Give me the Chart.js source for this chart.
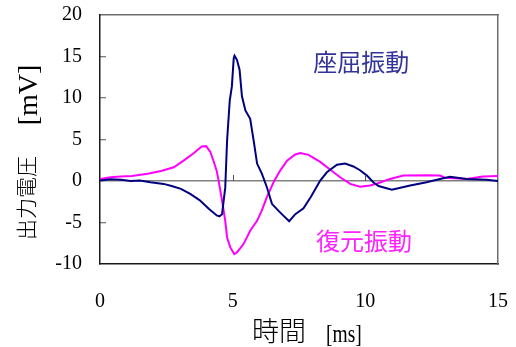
<!DOCTYPE html>
<html>
<head>
<meta charset="utf-8">
<script src="https://cdn.jsdelivr.net/npm/chart.js@4"></script>
<style>
  html, body { margin: 0; padding: 0; background: #fff; }
  #wrap { width: 516px; height: 347px; }
</style>
</head>
<body>
<div id="wrap"><canvas id="chart"></canvas></div>
<script>
// time [ms] and output voltage [mV]
const bucklingTime = [0, 0.4, 0.8, 1.15, 1.5, 1.9, 2.4, 2.7, 3.05, 3.4, 3.75, 4.1, 4.4, 4.5, 4.6, 4.66, 4.72,
  4.79, 4.89, 4.97, 5.04, 5.07, 5.16, 5.26, 5.35, 5.48, 5.66, 5.79, 5.92, 6.1, 6.29, 6.48, 6.73, 6.92,
  7.13, 7.36, 7.67, 7.95, 8.3, 8.55, 8.93, 9.24, 9.55, 9.8, 10.06, 10.3, 10.5, 11.0, 11.69, 12.31, 12.81,
  13.19, 13.82, 14.57, 15];
const bucklingVolt = [0.05, 0.2, 0.15, 0.0, 0.05, -0.15, -0.35, -0.6, -0.95, -1.55, -2.3, -3.35, -4.15, -4.25, -4.0, -2.4, -0.8,
  4.9, 9.7, 11.4, 14.8, 15.1, 14.6, 13.4, 10.2, 8.5, 7.5, 4.9, 2.1, 0.9, -0.75, -2.75, -3.6, -4.2,
  -4.85, -4.0, -3.3, -1.9, 0.05, 1.05, 1.95, 2.1, 1.75, 1.3, 0.65, -0.15, -0.6, -1.05, -0.55, -0.15, 0.25,
  0.5, 0.25, 0.15, 0.0];

const restoreTime = [0, 0.4, 0.77, 1.2, 1.8, 2.3, 2.78, 3.15, 3.53, 3.83, 4.0, 4.16, 4.3, 4.4, 4.47, 4.6, 4.72,
  4.79, 4.91, 5.06, 5.16, 5.41, 5.66, 5.92, 6.1, 6.29, 6.54, 6.79, 7.05, 7.36, 7.55, 7.86, 8.3, 8.68,
  9.05, 9.43, 9.8, 10.18, 10.45, 10.93, 11.43, 12.31, 12.81, 13.0, 13.82, 14.44, 15];
const restoreVolt = [0.25, 0.45, 0.55, 0.6, 0.87, 1.2, 1.65, 2.45, 3.35, 4.15, 4.2, 3.5, 2.2, 1.2, 0.05, -2.35, -4.8,
  -6.8, -8.0, -8.8, -8.6, -7.6, -6.0, -4.8, -3.55, -1.95, -0.15, 1.25, 2.45, 3.2, 3.37, 3.15, 2.3, 1.35,
  0.45, -0.35, -0.7, -0.55, -0.3, 0.25, 0.65, 0.7, 0.65, 0.4, 0.25, 0.55, 0.6];

const seriesNames = ['座屈振動', '復元振動'];
const xTicks = [0, 5, 10, 15];
const yTicks = [-10, -5, 0, 5, 10, 15, 20];

const serif = '"Liberation Serif", "Noto Sans CJK JP", serif';
const gothic = '"Noto Sans CJK JP", sans-serif';

function toPoints(xs, ys) {
  return xs.map((x, i) => ({ x: x, y: ys[i] }));
}

function isEdge(v) {
  return v === yTicks[0] || v === yTicks[yTicks.length - 1] || v === 0;
}

// axis titles, series labels and the small ticks on the zero line
const decorations = {
  id: 'decorations',
  afterDraw(chart) {
    const ctx = chart.ctx;
    const xs = chart.scales.x;
    const ys = chart.scales.y;

    ctx.save();
    ctx.font = '24px ' + gothic;
    ctx.textAlign = 'center';
    ctx.textBaseline = 'middle';
    ctx.fillStyle = '#333399';
    ctx.fillText(seriesNames[0], xs.getPixelForValue(9.85), ys.getPixelForValue(14.35));
    ctx.fillStyle = '#FF22FF';
    ctx.fillText(seriesNames[1], xs.getPixelForValue(9.95), ys.getPixelForValue(-7.2));
    ctx.restore();

    ctx.save();
    ctx.fillStyle = '#000000';
    ctx.textAlign = 'left';
    ctx.textBaseline = 'middle';
    ctx.font = '300 27px ' + gothic;
    ctx.fillText('時間', 252, 331);
    ctx.translate(326, 342);
    ctx.scale(0.75, 1);
    ctx.textBaseline = 'alphabetic';
    ctx.font = '26px "Liberation Serif", serif';
    ctx.fillText('[ms]', 0, 0);
    ctx.restore();

    ctx.save();
    ctx.fillStyle = '#000000';
    ctx.translate(26, 198);
    ctx.rotate(-Math.PI / 2);
    ctx.textAlign = 'center';
    ctx.textBaseline = 'middle';
    ctx.font = '300 21px ' + gothic;
    ctx.fillText('出力電圧', 0, 0);
    ctx.restore();
    ctx.save();
    ctx.fillStyle = '#000000';
    ctx.translate(37, 95);
    ctx.rotate(-Math.PI / 2);
    ctx.textAlign = 'center';
    ctx.textBaseline = 'alphabetic';
    ctx.font = '28px "Liberation Serif", serif';
    ctx.fillText('[mV]', 0, 0);
    ctx.restore();

    ctx.save();
    ctx.lineWidth = 1;
    ctx.strokeStyle = '#555555';
    const zero = ys.getPixelForValue(0);
    xTicks.slice(1, -1).forEach(t => {
      const px = Math.round(xs.getPixelForValue(t)) + 0.5;
      ctx.strokeRect(px, zero - 6, 0, 6);
    });
    ctx.restore();
  }
};

new Chart(document.getElementById('chart'), {
  type: 'line',
  data: {
    datasets: [
      {
        label: seriesNames[0],
        data: toPoints(bucklingTime, bucklingVolt),
        xAxisID: 'x',
        yAxisID: 'y',
        borderColor: '#000080',
        borderWidth: 2,
        pointRadius: 0,
        tension: 0
      },
      {
        label: seriesNames[1],
        data: toPoints(restoreTime, restoreVolt),
        xAxisID: 'x',
        yAxisID: 'y',
        borderColor: '#FF00FF',
        borderWidth: 2,
        pointRadius: 0,
        tension: 0
      }
    ]
  },
  options: {
    responsive: true,
    maintainAspectRatio: false,
    animation: false,
    layout: { padding: { top: 15, right: 18, left: 0, bottom: 0 } },
    plugins: {
      legend: { display: false },
      tooltip: { enabled: false }
    },
    scales: {
      x: {
        type: 'linear',
        position: 'bottom',
        min: 0,
        max: 15,
        afterBuildTicks: s => { s.ticks = xTicks.map(v => ({ value: v })); },
        afterFit: s => {
          s.height = 83;
          s.paddingLeft = 0;
          s.paddingRight = 0;
        },
        grid: { display: false, drawTicks: false },
        border: { display: true, color: '#1a1a1a', width: 1.5 },
        ticks: { padding: 26, color: '#000', font: { family: serif, size: 20 }, maxRotation: 0 }
      },
      xTop: {
        type: 'linear',
        position: 'top',
        min: 0,
        max: 15,
        afterFit: s => {
          s.height = 0;
          s.paddingLeft = 0;
          s.paddingRight = 0;
        },
        grid: { display: false, drawTicks: false },
        ticks: { display: false },
        border: { display: true, color: '#6e6e6e', width: 1.5 }
      },
      y: {
        position: 'left',
        min: -10,
        max: 20,
        afterBuildTicks: s => { s.ticks = yTicks.map(v => ({ value: v })); },
        afterFit: s => {
          s.width = 100;
          s.paddingTop = 0;
          s.paddingBottom = 0;
        },
        grid: {
          drawTicks: true,
          tickLength: -6,
          tickWidth: 1,
          lineWidth: 1.5,
          color: c => (c.tick && c.tick.value === 0 ? '#808080' : 'rgba(0,0,0,0)'),
          tickColor: c => (c.tick && isEdge(c.tick.value) ? 'rgba(0,0,0,0)' : '#555555')
        },
        border: { display: true, color: '#1a1a1a', width: 1.5 },
        ticks: { padding: 24, color: '#000', font: { family: serif, size: 20 } }
      },
      yRight: {
        position: 'right',
        min: -10,
        max: 20,
        afterFit: s => {
          s.width = 0;
          s.paddingTop = 0;
          s.paddingBottom = 0;
        },
        grid: { display: false, drawTicks: false },
        ticks: { display: false },
        border: { display: true, color: '#6e6e6e', width: 1.5 }
      }
    }
  },
  plugins: [decorations]
});
</script>
</body>
</html>
